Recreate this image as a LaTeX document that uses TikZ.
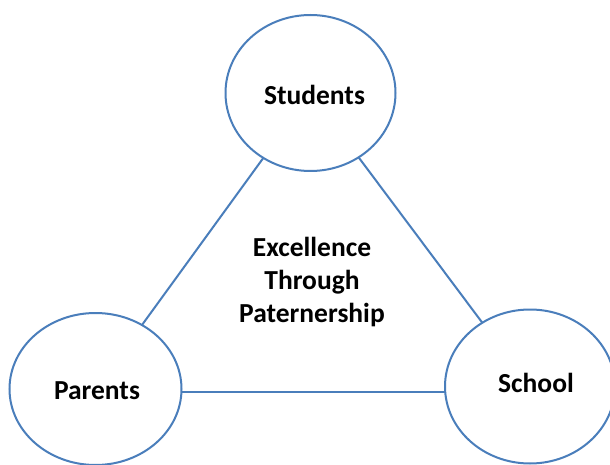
\documentclass[tikz,border=0pt]{standalone}
\usepackage{fontspec}
\setmainfont{Carlito}
\usetikzlibrary{shapes.geometric}
\definecolor{rim}{RGB}{74,126,187}
\tikzset{
  bubble/.style={ellipse, draw=rim, line width=2pt, fill=white, inner sep=0pt, outer sep=0pt},
  lbl/.style={font=\fontsize{27.5}{33}\selectfont\bfseries, inner sep=0pt, text=black},
  link/.style={draw=rim, line width=2pt}
}
\begin{document}
\begin{tikzpicture}[x=1pt,y=-1pt]
\useasboundingbox (0,0) rectangle (610,465);
\fill[white] (0,0) rectangle (610,465);
\node[bubble, minimum width=170pt, minimum height=156pt] (st) at (310.5,93) {};
\node[bubble, minimum width=172pt, minimum height=152pt] (pa) at (95.5,389) {};
\node[bubble, minimum width=170pt, minimum height=154pt] (sc) at (530,386.5) {};
\coordinate (ly) at (0,392);
\draw[link] (st) -- (pa);
\draw[link] (st) -- (sc);
\draw[link] (pa.east |- ly) -- (sc.west |- ly);
\node[lbl] (tst) at (314.5,95) {Students};
\node[lbl] (tpa) at (97,391) {Parents};
\node[lbl] (tsc) at (536,383) {School};
\node[lbl, align=center] (mid) at (312,282) {Excellence\\Through\\Paternership};
\end{tikzpicture}
\end{document}
